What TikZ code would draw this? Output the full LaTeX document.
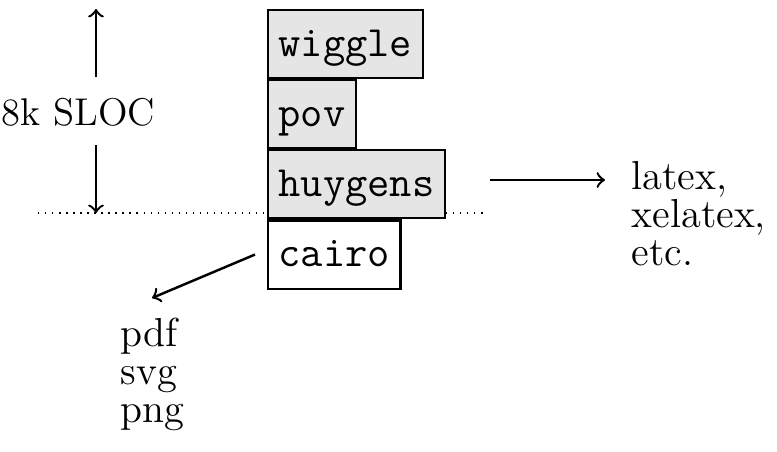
\documentclass[tikz,border=0pt]{standalone}
\usepackage{fontspec}
\usepackage{tikz}
\usetikzlibrary{positioning}

\begin{document}
\begin{tikzpicture}[x=0.01cm,y=-0.01cm,
	layer/.style={draw,line width=0.6pt,anchor=north west,minimum height=0.68cm,inner xsep=3pt,inner ysep=0pt,text height=0.46cm,text depth=0.22cm,font=\fontsize{12.3}{14}\selectfont\ttfamily},
	used/.style={layer,fill=gray!20},
	words/.style={inner sep=0pt,align=left,font=\fontsize{11.5}{10.8}\selectfont},
	link/.style={->,line width=0.7pt}]
	\useasboundingbox (0,0) rectangle (777,451);
	\draw[dash pattern=on 0.4pt off 1.6pt] (38,213) -- (487,213);
	% the stack
	\node[used] (wiggle) at (267,9) {wiggle};
	\node[used] (pov) at (wiggle.south west) {pov};
	\node[used] (huygens) at (pov.south west) {huygens};
	\node[layer,fill=white] (cairo) at (huygens.south west) {cairo};
	% size
	\node[words,anchor=base,font=\fontsize{11}{10.8}\selectfont] (sloc) at (78.5,125) {8k SLOC};
	\coordinate (slocup) at (96,77);
	\coordinate (slocdown) at (96,145);
	\coordinate (stacktop) at (96,9);
	\coordinate (stackbase) at (96,213);
	\draw[link] (slocup) -- (stacktop);
	\draw[link] (slocdown) -- (stackbase);
	% outputs
	\node[words,anchor=north west] (engines) at (631,161) {latex,\\xelatex,\\etc.};
	\node[words,anchor=north west] (formats) at (120,317) {pdf\\svg\\png};
	\coordinate (engin) at (605,180);
	\coordinate (formin) at (152,298);
	\draw[link] ([xshift=0.44cm]huygens.east |- engin) -- (engin);
	\draw[link] ([xshift=-0.12cm]cairo.west) -- (formin);
\end{tikzpicture}
\end{document}
